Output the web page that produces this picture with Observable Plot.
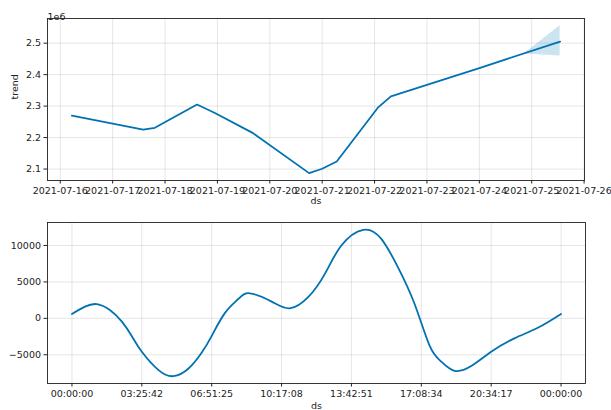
<!DOCTYPE html>
<html>
<head>
<meta charset="utf-8">
<script src="https://cdn.jsdelivr.net/npm/d3@7"></script>
<script src="https://cdn.jsdelivr.net/npm/@observablehq/plot@0.6"></script>
<style>
  html, body { margin: 0; padding: 0; background: #fff; }
  #chart svg { display: block; }
</style>
</head>
<body>
<div id="chart"></div>
<script>
// ---- Trend panel data ----
const trendDates = [
  "2021-07-16T05:20Z", "2021-07-17T14:00Z", "2021-07-17T19:20Z", "2021-07-18T14:40Z",
  "2021-07-18T22:50Z", "2021-07-19T16:20Z", "2021-07-20T18:00Z", "2021-07-21T00:00Z",
  "2021-07-21T06:40Z", "2021-07-22T01:30Z", "2021-07-22T07:30Z", "2021-07-24T00:00Z",
  "2021-07-25T13:00Z"
];
const trendValues = [
  2270000, 2225000, 2231000, 2305000,
  2278000, 2214000, 2087000, 2101000,
  2124000, 2295000, 2331000, 2421000,
  2505000
];
const bandDates = ["2021-07-24T20:24Z", "2021-07-25T00:43Z", "2021-07-25T13:00Z"];
const bandLower = [2466000, 2464000, 2459000];
const bandUpper = [2466000, 2489000, 2555000];
const dateTicks = ["2021-07-16", "2021-07-17", "2021-07-18", "2021-07-19", "2021-07-20",
  "2021-07-21", "2021-07-22", "2021-07-23", "2021-07-24", "2021-07-25", "2021-07-26"];
const trendTicks = [2100000, 2200000, 2300000, 2400000, 2500000];

// ---- Daily seasonality panel data ----
const seasonHours = [
  0.00, 0.64, 1.22, 1.86, 2.45, 2.94, 3.43, 4.25, 4.98, 5.72, 6.37, 6.86,
  7.51, 8.16, 8.73, 9.80, 10.69, 11.59, 12.41, 13.22, 14.29, 15.18, 16.00,
  16.81, 17.55, 18.12, 18.77, 19.59, 20.57, 21.71, 22.86, 24.00
];
const seasonValues = [
  600, 1600, 1950, 1150, -450, -2450, -4590, -7110, -7940, -6890, -4700, -2400,
  750, 2650, 3440, 2300, 1380, 2900, 6100, 10000, 12150, 10900, 7000,
  2000, -3750, -5950, -7200, -6550, -4590, -2750, -1300, 600
];
const hourTicks = [0, 3.4286, 6.8571, 10.2857, 13.7143, 17.1429, 20.5714, 24];
const hourTickLabels = ["00:00:00", "03:25:42", "06:51:25", "10:17:08", "13:42:51",
  "17:08:34", "20:34:17", "00:00:00"];
const seasonTicks = [-5000, 0, 5000, 10000];

// ---- Build tables ----
const trend = trendDates.map((d, i) => ({ds: new Date(d), y: trendValues[i]}));
const band = bandDates.map((d, i) => ({ds: new Date(d), lo: bandLower[i], hi: bandUpper[i]}));
const season = seasonHours.map((h, i) => ({h, v: seasonValues[i]}));
const dateTickDates = dateTicks.map(d => new Date(d + "T00:00Z"));

function pad(lo, hi, f = 0.05) { const r = hi - lo; return [lo - r * f, hi + r * f]; }

const tExt = d3.extent(trend, d => +d.ds);
const xDomTop = pad(tExt[0], tExt[1]).map(t => new Date(t));
const yDomTop = pad(Math.min(d3.min(trendValues), d3.min(bandLower)),
                    Math.max(d3.max(trendValues), d3.max(bandUpper)));
const xDomBot = pad(d3.min(seasonHours), d3.max(seasonHours));
const yDomBot = pad(d3.min(seasonValues), d3.max(seasonValues));

const BLUE = "#0072B2";
const style = {fontFamily: "'DejaVu Sans', sans-serif", fontSize: "9.5px", color: "#222", background: "#fff"};
const gridOpts = {stroke: "gray", strokeOpacity: 0.2, strokeWidth: 1};
const minusFmt = d => d < 0 ? "\u2212" + Math.abs(d) : String(d);

const trendChart = Plot.plot({
  width: 611, height: 210,
  marginLeft: 47, marginRight: 27, marginTop: 18, marginBottom: 30,
  style,
  x: {type: "utc", domain: xDomTop, label: null},
  y: {domain: yDomTop, label: null},
  marks: [
    Plot.gridX(dateTickDates, gridOpts),
    Plot.gridY(trendTicks, gridOpts),
    Plot.areaY(band, {x: "ds", y1: "lo", y2: "hi", fill: BLUE, fillOpacity: 0.2}),
    Plot.lineY(trend, {x: "ds", y: "y", stroke: BLUE, strokeWidth: 1.8}),
    Plot.frame({stroke: "#222", strokeWidth: 0.9}),
    Plot.axisX(dateTickDates, {tickFormat: d3.utcFormat("%Y-%m-%d"), tickSize: 3.5, tickPadding: 3, label: null, fontSize: 9.5}),
    Plot.axisY(trendTicks, {tickFormat: d => (d / 1e6).toFixed(1), tickSize: 3.5, tickPadding: 3, label: null, fontSize: 9.5}),
    Plot.text(["trend"], {frameAnchor: "left", dx: -33, rotate: -90, text: d => d, fontSize: 9.5, fill: "#222"}),
    Plot.text(["ds"], {frameAnchor: "bottom", dy: 23, text: d => d, fontSize: 9.5, fill: "#222"}),
    Plot.text(["1e6"], {frameAnchor: "top-left", dy: -5, textAnchor: "start", text: d => d, fontSize: 9.5, fill: "#222"})
  ]
});

const seasonChart = Plot.plot({
  width: 611, height: 200,
  marginLeft: 47, marginRight: 26, marginTop: 12, marginBottom: 27,
  style,
  x: {domain: xDomBot, label: null},
  y: {domain: yDomBot, label: null},
  marks: [
    Plot.gridX(hourTicks, gridOpts),
    Plot.gridY(seasonTicks, gridOpts),
    Plot.lineY(season, {x: "h", y: "v", stroke: BLUE, strokeWidth: 1.8, curve: "natural"}),
    Plot.frame({stroke: "#222", strokeWidth: 0.9}),
    Plot.axisX(hourTicks, {tickFormat: (d, i) => hourTickLabels[i], tickSize: 3.5, tickPadding: 3, label: null, fontSize: 9.5}),
    Plot.axisY(seasonTicks, {tickFormat: minusFmt, tickSize: 3.5, tickPadding: 3, label: null, fontSize: 9.5}),
    Plot.text(["ds"], {frameAnchor: "bottom", dy: 25, text: d => d, fontSize: 9.5, fill: "#222"})
  ]
});

document.getElementById("chart").append(trendChart, seasonChart);
</script>
</body>
</html>
